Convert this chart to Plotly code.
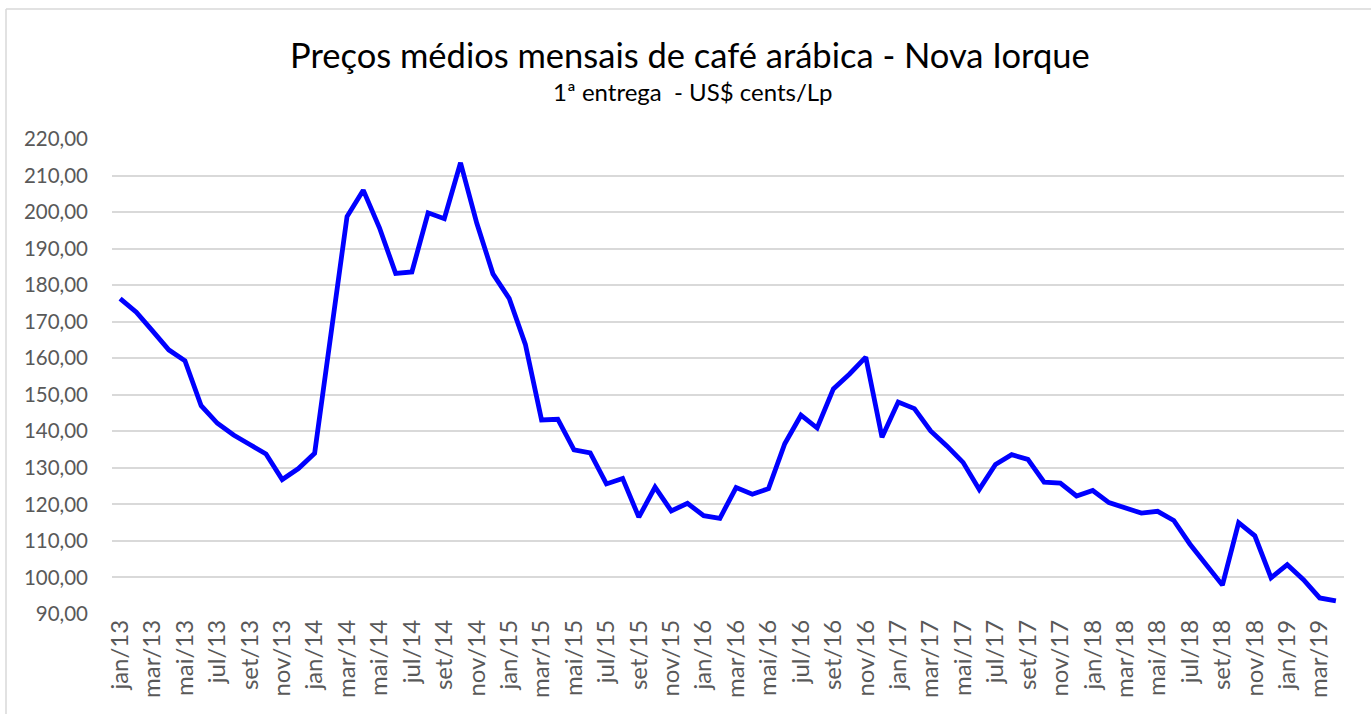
import plotly.graph_objects as go

months_pt = ["jan", "fev", "mar", "abr", "mai", "jun", "jul", "ago", "set", "out", "nov", "dez"]
years = ["13", "14", "15", "16", "17", "18", "19"]
categories = [f"{m}/{y}" for y in years for m in months_pt][:76]  # jan/13 .. abr/19

prices = [
    176.3, 172.6, 167.5, 162.3, 159.3, 147.0, 142.2, 139.0, 136.4, 133.8, 126.8, 129.8,
    134.0, 166.0, 198.8, 206.0, 195.7, 183.2, 183.6, 199.8, 198.2, 213.5, 197.0, 183.1,
    176.4, 163.8, 143.1, 143.3, 134.9, 134.1, 125.6, 127.1, 116.5, 124.7, 118.2, 120.3,
    116.9, 116.2, 124.6, 122.8, 124.3, 136.6, 144.4, 140.9, 151.6, 155.7, 160.3, 138.4,
    148.0, 146.2, 140.1, 136.0, 131.5, 124.1, 130.9, 133.6, 132.3, 126.1, 125.8, 122.3,
    123.8, 120.5, 119.0, 117.6, 118.1, 115.6, 109.1, 103.5, 97.9, 115.0, 111.4, 99.9,
    103.5, 99.4, 94.4, 93.6,
]

tick_labels = categories[::2]
y_ticks = list(range(90, 221, 10))

title_text = "Preços médios mensais de café arábica - Nova Iorque"
subtitle_text = "1ª entrega  - US$ cents/Lp"

FONT = "Lato"
GRAY = "#595959"

fig = go.Figure()
fig.add_trace(go.Scatter(
    x=categories, y=prices, mode="lines",
    line=dict(color="#0000FF", width=4.8),
    hoverinfo="x+y",
))

W, H = 1371, 714
L, R, T, B = 112, 27, 139, 100
pw, ph = W - L - R, H - T - B

def px_x(x):
    return (x - L) / pw

def px_y(y):
    return (H - B - y) / ph

fig.update_layout(
    width=W, height=H,
    margin=dict(l=L, r=R, t=T, b=B),
    paper_bgcolor="white", plot_bgcolor="white",
    separators=",.",
    showlegend=False,
    font=dict(family=FONT, color=GRAY),
    xaxis=dict(
        type="category",
        range=[-0.5, len(categories) - 0.5],
        tickmode="array", tickvals=tick_labels, ticktext=tick_labels,
        tickangle=-90, tickfont=dict(size=24, color=GRAY, family=FONT),
        showgrid=False, showline=False, zeroline=False, ticks="",
    ),
    yaxis=dict(
        range=[90, 220], tickmode="array", tickvals=y_ticks,
        tickformat=".2f", tickfont=dict(size=20.5, color=GRAY, family=FONT),
        showgrid=True, gridcolor="#D9D9D9", gridwidth=1.8,
        zeroline=False, showline=False, ticks="", ticklabelstandoff=23,
    ),
    annotations=[
        dict(text=title_text, x=px_x(690), y=px_y(55), xref="paper", yref="paper",
             xanchor="center", yanchor="middle", showarrow=False,
             font=dict(size=34.5, color="#000000", family=FONT)),
        dict(text=subtitle_text, x=px_x(693), y=px_y(92), xref="paper", yref="paper",
             xanchor="center", yanchor="middle", showarrow=False,
             font=dict(size=24, color="#000000", family=FONT)),
    ],
    shapes=[
        dict(type="line", xref="paper", yref="paper", x0=px_x(6), x1=px_x(1371),
             y0=px_y(9), y1=px_y(9), line=dict(color="#D9D9D9", width=1.5)),
        dict(type="line", xref="paper", yref="paper", x0=px_x(6), x1=px_x(6),
             y0=px_y(9), y1=px_y(714), line=dict(color="#D9D9D9", width=1.5)),
    ],
)

fig.write_html(
    "out.html",
    config={"displayModeBar": False},
    post_script="document.body.style.margin='0';document.body.style.overflow='hidden';",
)
